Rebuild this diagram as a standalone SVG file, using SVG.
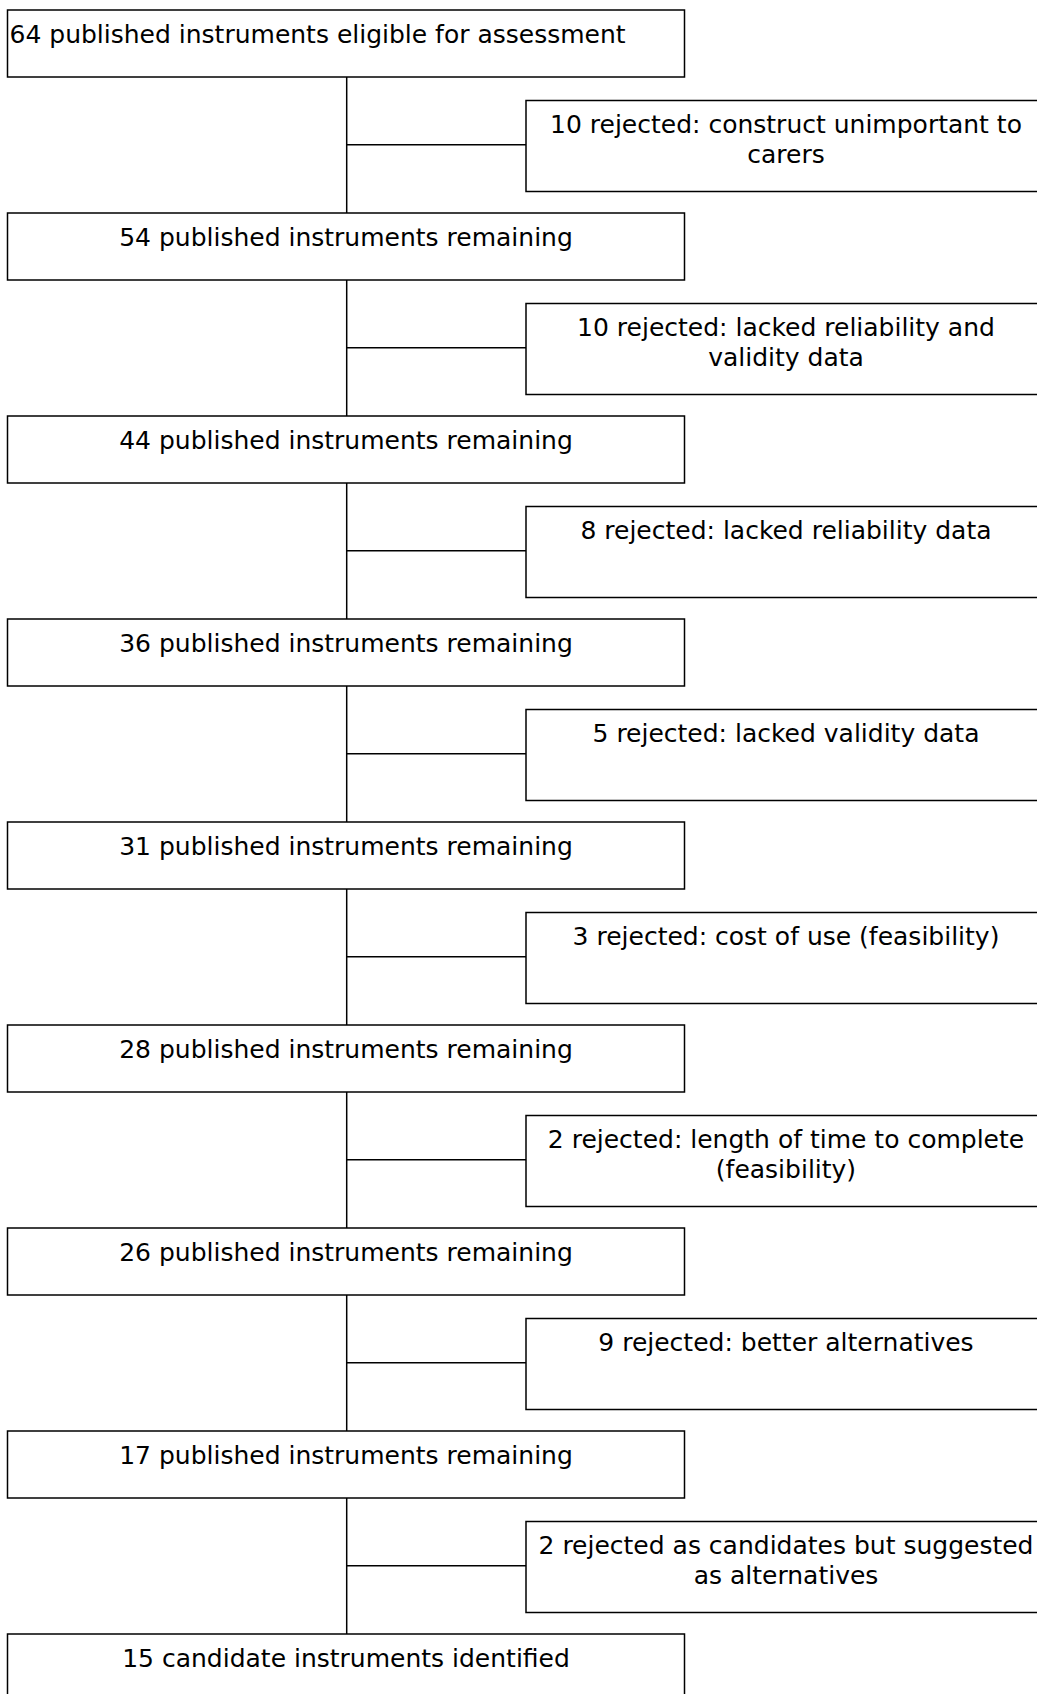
<svg xmlns="http://www.w3.org/2000/svg" width="1037" height="1694" viewBox="0 0 1037 1694">
<style>
.box{fill:#fff;stroke:#000;stroke-width:1.5}
.ln{stroke:#000;stroke-width:1.5;fill:none}
text{font-family:"DejaVu Sans","Verdana",sans-serif;font-size:25px;fill:#000}
.c{text-anchor:middle}
</style>
<rect width="1037" height="1694" fill="#fff"/>
<g id="connectors">
<path class="ln" d="M346.7 77V217M346.7 144.7H526"/>
<path class="ln" d="M346.7 280V420M346.7 347.7H526"/>
<path class="ln" d="M346.7 483V623M346.7 550.7H526"/>
<path class="ln" d="M346.7 686V826M346.7 753.7H526"/>
<path class="ln" d="M346.7 889V1029M346.7 956.7H526"/>
<path class="ln" d="M346.7 1092V1232M346.7 1159.7H526"/>
<path class="ln" d="M346.7 1295V1435M346.7 1362.7H526"/>
<path class="ln" d="M346.7 1498V1634M346.7 1565.7H526"/>
</g>
<g id="n64"><rect class="box" x="7.5" y="10" width="677" height="67"/><text x="9.5" y="43">64 published instruments eligible for assessment</text></g>
<g id="r1"><rect class="box" x="526" y="100.5" width="520" height="91"/><text class="c" x="786" y="132.5">10 rejected: construct unimportant to</text><text class="c" x="786" y="162.5">carers</text></g>
<g id="n54"><rect class="box" x="7.5" y="213" width="677" height="67"/><text class="c" x="346" y="246">54 published instruments remaining</text></g>
<g id="r2"><rect class="box" x="526" y="303.5" width="520" height="91"/><text class="c" x="786" y="335.5">10 rejected: lacked reliability and</text><text class="c" x="786" y="365.5">validity data</text></g>
<g id="n44"><rect class="box" x="7.5" y="416" width="677" height="67"/><text class="c" x="346" y="449">44 published instruments remaining</text></g>
<g id="r3"><rect class="box" x="526" y="506.5" width="520" height="91"/><text class="c" x="786" y="538.5">8 rejected: lacked reliability data</text></g>
<g id="n36"><rect class="box" x="7.5" y="619" width="677" height="67"/><text class="c" x="346" y="652">36 published instruments remaining</text></g>
<g id="r4"><rect class="box" x="526" y="709.5" width="520" height="91"/><text class="c" x="786" y="741.5">5 rejected: lacked validity data</text></g>
<g id="n31"><rect class="box" x="7.5" y="822" width="677" height="67"/><text class="c" x="346" y="855">31 published instruments remaining</text></g>
<g id="r5"><rect class="box" x="526" y="912.5" width="520" height="91"/><text class="c" x="786" y="944.5">3 rejected: cost of use (feasibility)</text></g>
<g id="n28"><rect class="box" x="7.5" y="1025" width="677" height="67"/><text class="c" x="346" y="1058">28 published instruments remaining</text></g>
<g id="r6"><rect class="box" x="526" y="1115.5" width="520" height="91"/><text class="c" x="786" y="1147.5">2 rejected: length of time to complete</text><text class="c" x="786" y="1177.5">(feasibility)</text></g>
<g id="n26"><rect class="box" x="7.5" y="1228" width="677" height="67"/><text class="c" x="346" y="1261">26 published instruments remaining</text></g>
<g id="r7"><rect class="box" x="526" y="1318.5" width="520" height="91"/><text class="c" x="786" y="1350.5">9 rejected: better alternatives</text></g>
<g id="n17"><rect class="box" x="7.5" y="1431" width="677" height="67"/><text class="c" x="346" y="1464">17 published instruments remaining</text></g>
<g id="r8"><rect class="box" x="526" y="1521.5" width="520" height="91"/><text class="c" x="786" y="1553.5">2 rejected as candidates but suggested</text><text class="c" x="786" y="1583.5">as alternatives</text></g>
<g id="n15"><rect class="box" x="7.5" y="1634" width="677" height="67"/><text class="c" x="346" y="1667">15 candidate instruments identified</text></g>
</svg>
